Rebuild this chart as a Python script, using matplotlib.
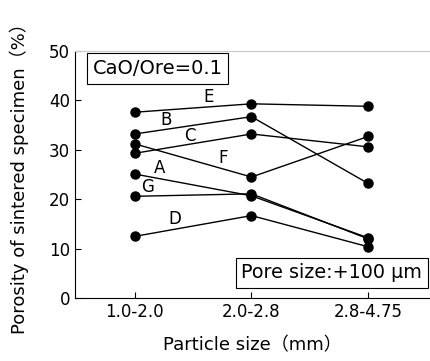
import matplotlib
matplotlib.use('Agg')
import matplotlib.pyplot as plt

# Kategorien und Messwerte (Porosität in %)
categories = ['1.0-2.0', '2.0-2.8', '2.8-4.75']
series = {
    'A': [25.1, 20.7, 12.2],
    'B': [33.2, 36.7, 23.2],
    'C': [29.3, 33.2, 30.6],
    'D': [12.5, 16.7, 10.4],
    'E': [37.6, 39.3, 38.8],
    'F': [31.2, 24.5, 32.7],
    'G': [20.6, 21.1, 12.0],
}
# Beschriftungspositionen der Kurven (x, y in Datenkoordinaten)
label_pos = {
    'E': (0.63, 40.6),
    'B': (0.27, 36.0),
    'C': (0.47, 32.8),
    'F': (0.76, 28.4),
    'A': (0.21, 26.4),
    'G': (0.11, 22.5),
    'D': (0.34, 16.0),
}

plt.rcParams['font.family'] = ['DejaVu Sans', 'Noto Sans CJK JP']

fig = plt.figure(figsize=(4.3, 3.61), dpi=100)
ax = fig.add_axes([0.174, 0.174, 0.826, 0.685])

x = list(range(len(categories)))
for name, vals in series.items():
    ax.plot(x, vals, color='black', lw=1.0, marker='o', markersize=6.5)
    lx, ly = label_pos[name]
    ax.text(lx, ly, name, fontsize=12, ha='center', va='center')

ax.set_xlim(-0.514, 2.53)
ax.set_ylim(0, 50)
ax.set_xticks(x)
ax.set_xticklabels(categories)
ax.set_yticks(range(0, 51, 10))
ax.tick_params(direction='in', labelsize=12, length=4)
ax.spines['top'].set_color('#c8c8c8')
ax.spines['top'].set_linewidth(0.8)
ax.spines['right'].set_visible(False)

ax.set_xlabel('Particle size（mm）', fontsize=13, labelpad=11)
ax.set_ylabel('Porosity of sintered specimen（%）', fontsize=13)
ax.yaxis.set_label_coords(-0.128, 0.5)

box = dict(boxstyle='square,pad=0.3', facecolor='white', edgecolor='black', lw=0.8)
ax.text(0.05, 0.93, 'CaO/Ore=0.1', transform=ax.transAxes, fontsize=14,
        ha='left', va='center', bbox=box)
ax.text(0.978, 0.102, 'Pore size:+100 μm', transform=ax.transAxes, fontsize=13.8,
        ha='right', va='center', bbox=box)

fig.savefig('out.png', dpi=100)
